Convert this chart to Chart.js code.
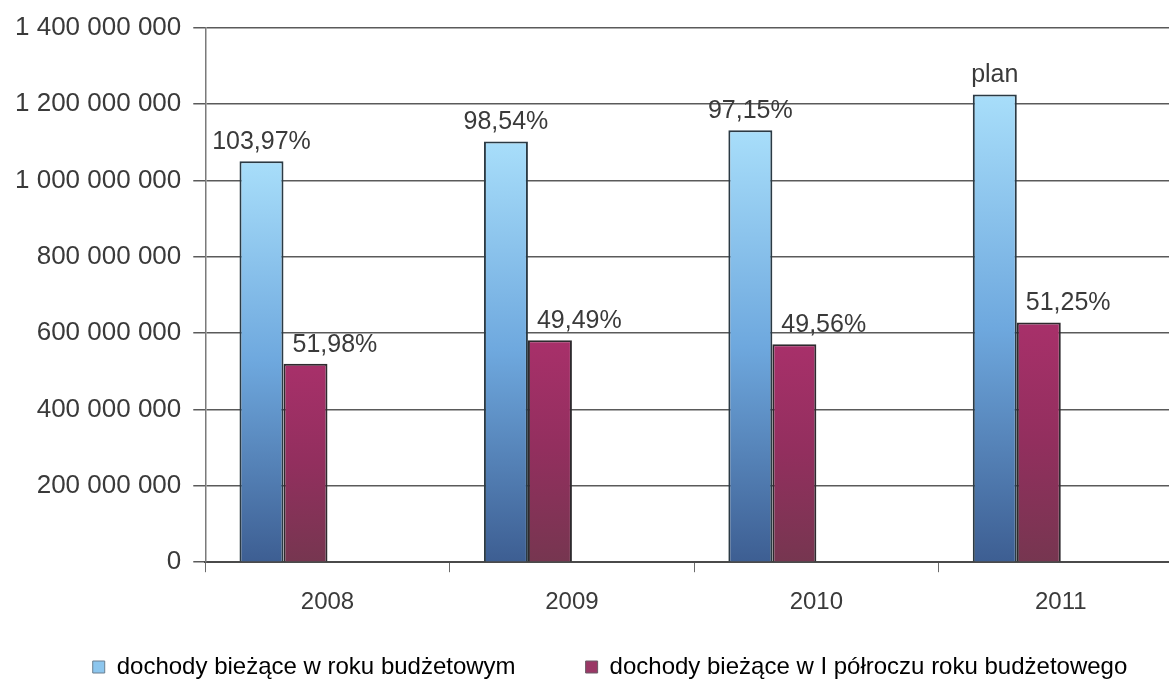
<!DOCTYPE html>
<html>
<head>
<meta charset="utf-8">
<script src="https://cdn.jsdelivr.net/npm/chart.js@4.4.1/dist/chart.umd.min.js"></script>
<style>
  html, body { margin: 0; padding: 0; background: #fff; overflow: hidden; }
  #wrap { width: 1190px; height: 681px; }
</style>
</head>
<body>
<div id="wrap"><canvas id="dochodyChart" width="1190" height="681"></canvas></div>
<script>
// dane
const years = ['2008', '2009', '2010', '2011'];
const yearlyIncome = [1050000000, 1102000000, 1131000000, 1225000000];
const halfYearIncome = [520000000, 581000000, 571000000, 628000000];
const yearlyLabels = ['103,97%', '98,54%', '97,15%', 'plan'];
const halfYearLabels = ['51,98%', '49,49%', '49,56%', '51,25%'];
const emptySlot = [null, null, null, null];
const seriesNames = ['dochody bieżące w roku budżetowym', 'dochody bieżące w I półroczu roku budżetowego'];
const yMax = 1400000000;
const yStep = 200000000;

const FONT = "'Liberation Sans', Arial, sans-serif";

function barGradient(stops) {
  return (context) => {
    const chart = context.chart;
    const v = context.raw;
    if (!chart.chartArea || v == null) return stops[stops.length - 1];
    const y = chart.scales.y;
    const top = y.getPixelForValue(v);
    const bottom = y.getPixelForValue(0);
    const g = chart.ctx.createLinearGradient(0, top, 0, bottom);
    stops.forEach((c, i) => g.addColorStop(i / (stops.length - 1), c));
    return g;
  };
}

// etykiety nad słupkami
const barLabels = {
  id: 'barLabels',
  afterDatasetsDraw(chart) {
    const ctx = chart.ctx;
    ctx.save();
    ctx.font = '25px ' + FONT;
    ctx.fillStyle = '#3a3a3a';
    ctx.textBaseline = 'alphabetic';
    chart.getDatasetMeta(0).data.forEach((bar, i) => {
      ctx.textAlign = 'center';
      ctx.fillText(yearlyLabels[i], bar.x, bar.y - 12);
    });
    chart.getDatasetMeta(1).data.forEach((bar, i) => {
      ctx.textAlign = 'left';
      ctx.fillText(halfYearLabels[i], bar.x - bar.width / 2 + 9, bar.y - 12);
    });
    ctx.restore();
  }
};

// legenda: przesunięcie w prawo i do góry (pole legendy do dołu płótna)
const legendShift = {
  id: 'legendShift',
  afterLayout(chart) {
    const lg = chart.legend;
    if (!lg) return;
    lg.left += 17;
    lg.right += 17;
    lg.top -= 48;
    lg.bottom = chart.height;
    lg.height = lg.bottom - lg.top;
  }
};

const ctx = document.getElementById('dochodyChart').getContext('2d');
new Chart(ctx, {
  type: 'bar',
  data: {
    labels: years,
    datasets: [
      {
        label: seriesNames[0],
        data: yearlyIncome,
        backgroundColor: barGradient(['#a8defa', '#6ea8de', '#3d5e92']),
        borderColor: '#2b3a44',
        borderWidth: 2,
        borderSkipped: 'bottom'
      },
      {
        label: seriesNames[1],
        data: halfYearIncome,
        backgroundColor: barGradient(['#a8306a', '#922f5e', '#763650']),
        borderColor: '#2e2a2e',
        borderWidth: 2,
        borderSkipped: 'bottom'
      },
      { label: '', data: emptySlot },
      { label: '', data: emptySlot }
    ]
  },
  options: {
    responsive: false,
    animation: false,
    datasets: { bar: { categoryPercentage: 0.72, barPercentage: 1.0 } },
    layout: { padding: { left: 3, top: 11, right: 7, bottom: 0 } },
    plugins: {
      tooltip: { enabled: false },
      legend: {
        position: 'bottom',
        maxHeight: 48,
        labels: {
          font: { family: FONT, size: 24 },
          color: '#3a3a3a',
          boxWidth: 12,
          boxHeight: 12,
          padding: 70,
          generateLabels: () => [
            { text: seriesNames[0], fillStyle: '#8cc6ee', strokeStyle: '#6a7f90', lineWidth: 1, datasetIndex: 0 },
            { text: seriesNames[1], fillStyle: '#9a3866', strokeStyle: '#6a5a66', lineWidth: 1, datasetIndex: 1 }
          ]
        }
      }
    },
    scales: {
      x: {
        grid: {
          drawOnChartArea: false,
          color: '#6a6a6a',
          tickLength: 10,
          offset: true
        },
        border: { color: '#4a4a4a', width: 2 },
        ticks: {
          font: { family: FONT, size: 24 },
          color: '#3a3a3a',
          padding: 16
        }
      },
      y: {
        min: 0,
        max: yMax,
        ticks: {
          stepSize: yStep,
          font: { family: FONT, size: 26 },
          color: '#3a3a3a',
          padding: 12,
          callback: (v) => String(v).replace(/\B(?=(\d{3})+(?!\d))/g, ' ')
        },
        grid: {
          color: '#5a5a5a',
          lineWidth: 1.5,
          tickLength: 12
        },
        border: { color: '#7a7a7a', width: 1.5 }
      }
    }
  },
  plugins: [barLabels, legendShift]
});
</script>
</body>
</html>
